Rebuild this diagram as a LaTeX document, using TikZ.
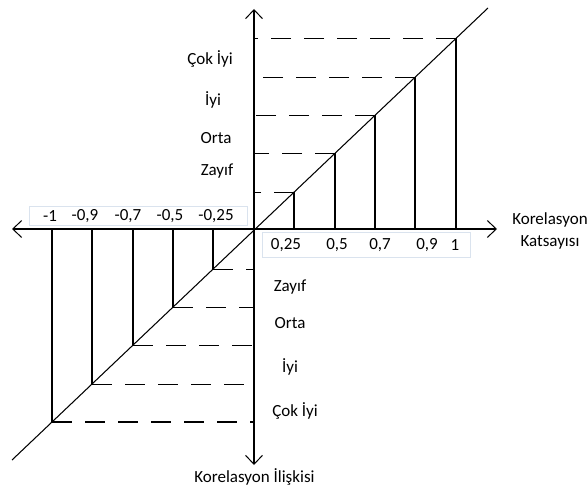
\documentclass[tikz,border=0pt]{standalone}
\usepackage{fontspec}
\setmainfont{Carlito}
\usetikzlibrary{arrows.meta}
\definecolor{boxc}{RGB}{218,227,238}
\begin{document}
\begin{tikzpicture}[x=1pt,y=-1pt,
  barb/.tip={Straight Barb[length=9pt,width=17pt,line width=1pt]},
  ax/.style={line width=1.15pt,barb-barb},
  ln/.style={line width=1.05pt},
  dsh/.style={line width=1.05pt,dash pattern=on 20pt off 13pt},
  lbl/.style={font=\fontsize{17}{22}\selectfont, inner sep=0pt, align=center},
  tbox/.style={draw=boxc, line width=0.8pt}]
\useasboundingbox (0,0) rectangle (587,487);
\coordinate (O) at (254,229);
\coordinate (L) at (12,229);
\coordinate (R) at (497,229);
\coordinate (T) at (254,9);
\coordinate (B) at (254,465);
\coordinate (D1) at (12,460);
\coordinate (D2) at (488,8);
% label boxes
\draw[tbox] (29,206) rectangle (247,225);
\draw[tbox] (262,232) rectangle (470,257);
% axes and diagonal
\draw[ax] (L) -- (R);
\draw[ax] (B) -- (T);
\draw[ln] (D1) -- (D2);
% verticals and dashed levels
\foreach \x/\n in {294/p1,335/p2,375/p3,415/p4,456/p5,213/n1,173/n2,133/n3,92/n4,52/n5}{
  \coordinate (\n) at (\x,{460-(\x-12)*0.9496});
  \coordinate (\n a) at (\x,229);
  \coordinate (\n v) at (254,{460-(\x-12)*0.9496});
  \draw[ln] (\n) -- (\n a);
  \draw[dsh] (\n) -- (\n v);
}
% tick labels
\node[lbl] (tm1) at (50,216) {-1};
\node[lbl] (tm2) at (85,216) {-0,9};
\node[lbl] (tm3) at (128,216) {-0,7};
\node[lbl] (tm4) at (170,216) {-0,5};
\node[lbl] (tm5) at (216,216) {-0,25};
\node[lbl] (tp1) at (286,245.5) {0,25};
\node[lbl] (tp2) at (337,245.5) {0,5};
\node[lbl] (tp3) at (380,245.5) {0,7};
\node[lbl] (tp4) at (427,245.5) {0,9};
\node[lbl] (tp5) at (455,245.5) {1};
% level labels
\node[lbl] (u4) at (210,59) {Çok İyi};
\node[lbl] (u3) at (213,100) {İyi};
\node[lbl] (u2) at (216,138) {Orta};
\node[lbl] (u1) at (217,171) {Zayıf};
\node[lbl] (d1) at (290,287) {Zayıf};
\node[lbl] (d2) at (290,323) {Orta};
\node[lbl] (d3) at (290,367) {İyi};
\node[lbl] (d4) at (295,411) {Çok İyi};
% axis titles
\node[lbl] (xt) at (550,231) {Korelasyon\\Katsayısı};
\node[lbl] (yt) at (254.5,477) {Korelasyon İlişkisi};
\end{tikzpicture}
\end{document}
